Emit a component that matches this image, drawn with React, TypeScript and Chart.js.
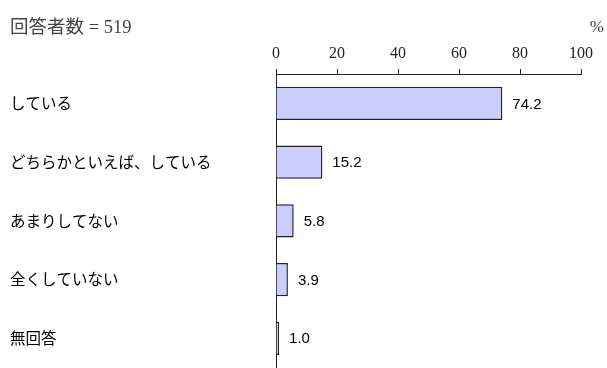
import React, { useEffect, useRef } from "react";
import { Chart, registerables } from "chart.js";

Chart.register(...registerables);

const categories = ["している", "どちらかといえば、している", "あまりしてない", "全くしていない", "無回答"];
const values = [74.2, 15.2, 5.8, 3.9, 1.0];
const tickValues = [0, 20, 40, 60, 80, 100];
const titleText = "回答者数 = 519";
const unitText = "%";

export default function App() {
  const ref = useRef<HTMLCanvasElement | null>(null);
  useEffect(() => {
    if (!ref.current) return;
    const labelPlugin = {
      id: "labels",
      afterDatasetsDraw(chart: any) {
        const ctx = chart.ctx;
        const meta = chart.getDatasetMeta(0);
        ctx.save();
        ctx.fillStyle = "#000";
        ctx.font = '15px "Liberation Sans", "Noto Sans", sans-serif';
        ctx.textBaseline = "middle";
        ctx.textAlign = "left";
        meta.data.forEach((bar: any, i: number) => {
          ctx.fillText(values[i].toFixed(1), bar.x + 10, bar.y + 1);
        });
        ctx.restore();
      },
      afterDraw(chart: any) {
        const ctx = chart.ctx;
        ctx.save();
        ctx.fillStyle = "#444";
        ctx.font = '18.5px "Liberation Serif", "Noto Sans CJK JP", serif';
        ctx.textBaseline = "alphabetic";
        ctx.textAlign = "left";
        ctx.fillText(titleText, 10, 33);
        ctx.font = '17px "Liberation Serif", serif';
        ctx.textAlign = "right";
        ctx.fillText(unitText, 604, 32);
        ctx.restore();
      },
    };
    const chart = new Chart(ref.current, {
      type: "bar",
      data: {
        labels: categories,
        datasets: [
          {
            data: values,
            backgroundColor: "rgb(204,204,255)",
            borderColor: "#222",
            borderWidth: 1.5,
            barPercentage: 0.565,
            categoryPercentage: 1,
          },
        ],
      },
      options: {
        indexAxis: "y",
        animation: false,
        responsive: false,
        maintainAspectRatio: false,
        layout: { padding: { left: 10, right: 26, top: 0, bottom: 5 } },
        plugins: { legend: { display: false }, tooltip: { enabled: false }, title: { display: false } },
        scales: {
          x: {
            position: "top",
            min: 0,
            max: 100,
            afterBuildTicks: (scale: any) => {
              scale.ticks = tickValues.map((v) => ({ value: v }));
            },
            afterFit: (scale: any) => {
              scale.height = 74;
            },
            grid: { display: true, drawOnChartArea: false, drawTicks: true, tickLength: 5, color: "#222" },
            border: { display: true, color: "#222", width: 1 },
            ticks: {
              color: "#222",
              padding: 6,
              maxRotation: 0,
              font: { family: '"Liberation Serif", serif', size: 16 },
            },
          },
          y: {
            afterFit: (scale: any) => {
              scale.width = 266;
            },
            grid: { display: false },
            border: { display: true, color: "#222", width: 1 },
            ticks: {
              color: "#000",
              crossAlign: "far",
              font: { family: '"Noto Sans CJK JP", sans-serif', size: 15.5 },
            },
          },
        },
      },
      plugins: [labelPlugin],
    } as any);
    return () => chart.destroy();
  }, []);
  return (
    <div style={{ position: "absolute", left: 0, top: 0, width: 607, height: 380, background: "#fff" }}>
      <canvas ref={ref} width={607} height={380} style={{ display: "block" }} />
    </div>
  );
}
